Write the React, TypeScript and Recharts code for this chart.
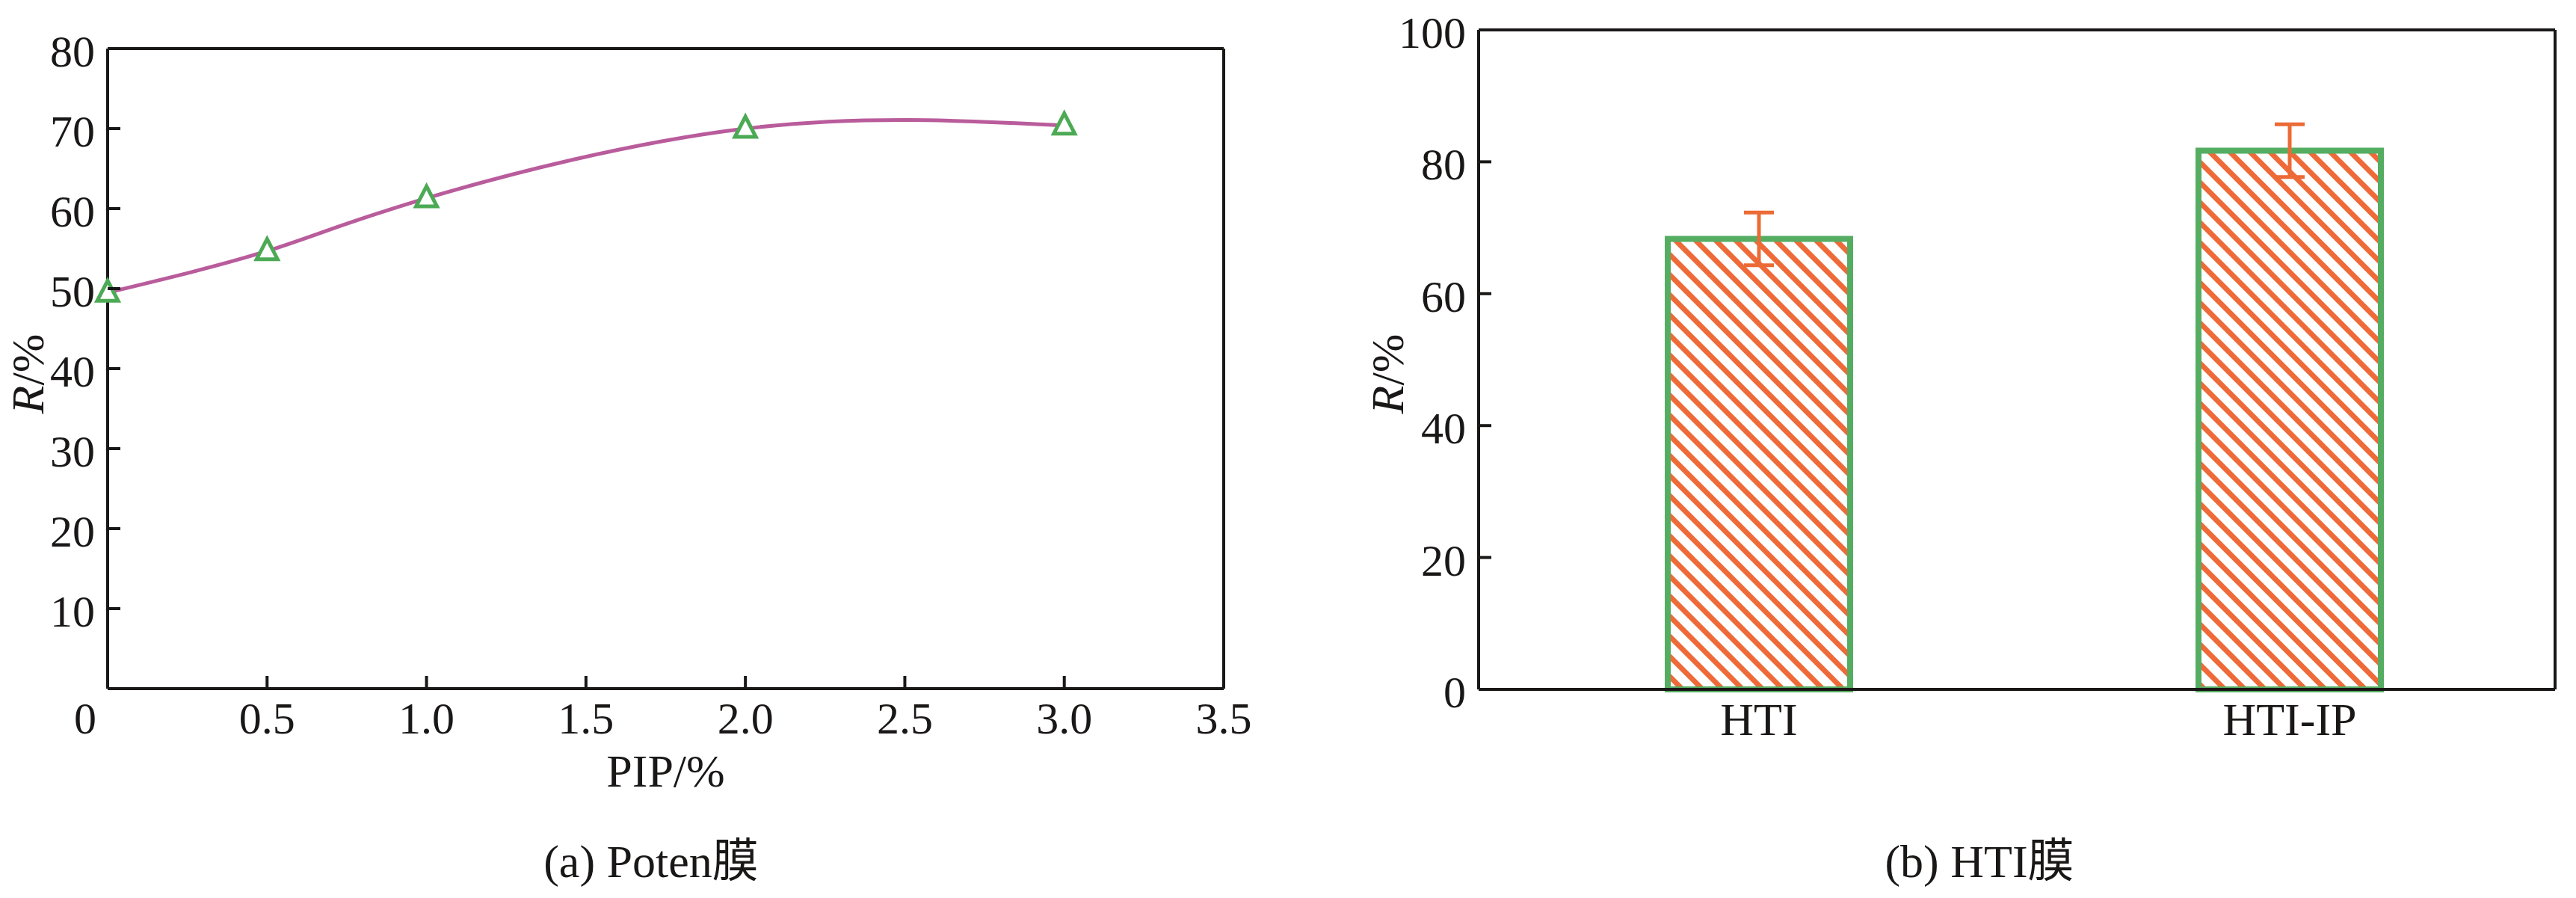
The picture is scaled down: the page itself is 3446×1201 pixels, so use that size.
import React from "react";
import {
  LineChart,
  Line,
  BarChart,
  Bar,
  ErrorBar,
  XAxis,
  YAxis,
  ReferenceLine,
} from "recharts";

// (a) Poten membrane: rejection vs PIP content
const pipLevels = [0, 0.5, 1.0, 2.0, 3.0];
const potenR = [49.5, 54.7, 61.3, 70.0, 70.4];
const pipTicks = [0, 0.5, 1.0, 1.5, 2.0, 2.5, 3.0, 3.5];
const leftYTicks = [10, 20, 30, 40, 50, 60, 70, 80];

// (b) HTI membranes
const membranes = ["HTI", "HTI-IP"];
const membraneR = [68.3, 81.7];
const membraneErr = [4.0, 4.0];
const rightYTicks = [0, 20, 40, 60, 80, 100];

const FONT = "'Liberation Serif', 'Times New Roman', 'Noto Sans CJK SC', serif";
const INK = "#1a1717";
const TICK = 17;
const FS = 60;

const potenData = pipLevels.map((p, i) => ({ pip: p, r: potenR[i] }));
const membraneData = membranes.map((m, i) => ({
  name: m,
  r: membraneR[i],
  err: membraneErr[i],
}));

const LeftTickY = (props: any) => {
  const { x, y, payload } = props;
  return (
    <g>
      <line x1={x} y1={y} x2={x + TICK} y2={y} stroke={INK} strokeWidth={4} />
      <text x={x - TICK} y={y} dy="0.4em" textAnchor="end" fontFamily={FONT} fontSize={FS} fill={INK}>
        {payload.value}
      </text>
    </g>
  );
};

const PipTick = (props: any) => {
  const { x, y, payload } = props;
  const v = payload.value as number;
  return (
    <g>
      <line x1={x} y1={y} x2={x} y2={y - TICK} stroke={INK} strokeWidth={4} />
      <text x={v === 0 ? x - 30 : x} y={y + 60} textAnchor="middle" fontFamily={FONT} fontSize={FS} fill={INK}>
        {v === 0 ? "0" : v.toFixed(1)}
      </text>
    </g>
  );
};

const CatTick = (props: any) => {
  const { x, y, payload } = props;
  return (
    <text x={x} y={y + 61} textAnchor="middle" fontFamily={FONT} fontSize={62} fill={INK}>
      {payload.value}
    </text>
  );
};

const RLabel = (props: any) => {
  const { viewBox, dx, dy } = props;
  const cx = viewBox.x + dx;
  const cy = viewBox.y + viewBox.height / 2 + dy;
  return (
    <text
      x={cx}
      y={cy}
      transform={`rotate(-90 ${cx} ${cy})`}
      textAnchor="middle"
      dominantBaseline="central"
      fontFamily={FONT}
      fontSize={62}
      fill={INK}
    >
      <tspan fontStyle="italic">R</tspan>/%
    </text>
  );
};

const PipLabel = (props: any) => {
  const { viewBox } = props;
  return (
    <text
      x={viewBox.x + viewBox.width / 2}
      y={viewBox.y + 131}
      textAnchor="middle"
      fontFamily={FONT}
      fontSize={62}
      fill={INK}
    >
      PIP/%
    </text>
  );
};

const TriangleDot = (props: any) => {
  const { cx, cy } = props;
  if (cx == null || cy == null) return <g />;
  return (
    <path
      d={`M${cx} ${cy - 16} L${cx + 14} ${cy + 11} L${cx - 14} ${cy + 11} Z`}
      fill="#ffffff"
      stroke="#4caa55"
      strokeWidth={5}
      strokeLinejoin="miter"
    />
  );
};

const caption: React.CSSProperties = {
  position: "absolute",
  width: 600,
  textAlign: "center",
  fontFamily: FONT,
  fontSize: 62,
  lineHeight: "62px",
  color: INK,
  whiteSpace: "nowrap",
};

const axisStyle = { stroke: INK, strokeWidth: 4 };

const App: React.FC = () => {
  return (
    <div style={{ position: "absolute", left: 0, top: 0, width: 3446, height: 1201, background: "#fff" }}>
      <div style={{ position: "absolute", left: 0, top: 0 }}>
        <LineChart
          width={1700}
          height={1201}
          data={potenData}
          margin={{ top: 65, right: 63, left: 44, bottom: 180 }}
        >
          <XAxis
            dataKey="pip"
            type="number"
            domain={[0, 3.5]}
            ticks={pipTicks}
            height={100}
            axisLine={axisStyle}
            tickLine={false}
            tickSize={0}
            tickMargin={0}
            tick={<PipTick />}
            label={{ content: (p: any) => <PipLabel {...p} /> }}
          />
          <YAxis
            type="number"
            domain={[0, 80]}
            ticks={leftYTicks}
            width={100}
            axisLine={axisStyle}
            tickLine={false}
            tickSize={0}
            tickMargin={0}
            tick={<LeftTickY />}
            label={{ content: (p: any) => <RLabel {...p} dx={-7} dy={7} /> }}
          />
          <ReferenceLine y={80} stroke={INK} strokeWidth={4} />
          <ReferenceLine x={3.5} stroke={INK} strokeWidth={4} />
          <Line
            type="natural"
            dataKey="r"
            stroke="#b95c9c"
            strokeWidth={5}
            dot={<TriangleDot />}
            activeDot={false}
            isAnimationActive={false}
          />
        </LineChart>
      </div>

      <div style={{ position: "absolute", left: 1700, top: 0 }}>
        <BarChart
          width={1746}
          height={1201}
          data={membraneData}
          margin={{ top: 40, right: 28, left: 178, bottom: 179 }}
        >
          <defs>
            <pattern
              id="hatch"
              patternUnits="userSpaceOnUse"
              width={19}
              height={19}
              patternTransform="rotate(-45)"
            >
              <rect x={0} y={0} width={19} height={19} fill="#ffffff" />
              <rect x={0} y={0} width={7} height={19} fill="#ee6a38" />
            </pattern>
          </defs>
          <XAxis
            dataKey="name"
            height={100}
            padding={{ left: 20, right: 0 }}
            axisLine={axisStyle}
            tickLine={false}
            tickSize={0}
            tickMargin={0}
            tick={<CatTick />}
          />
          <XAxis xAxisId="frame" type="number" domain={[0, 1]} hide />
          <YAxis
            type="number"
            domain={[0, 100]}
            ticks={rightYTicks}
            width={100}
            axisLine={axisStyle}
            tickLine={false}
            tickSize={0}
            tickMargin={0}
            tick={<LeftTickY />}
            label={{ content: (p: any) => <RLabel {...p} dx={-22} dy={19} /> }}
          />
          <ReferenceLine y={100} stroke={INK} strokeWidth={4} />
          <ReferenceLine xAxisId="frame" x={1} stroke={INK} strokeWidth={4} />
          <Bar
            dataKey="r"
            barSize={244}
            fill="url(#hatch)"
            stroke="#55ad62"
            strokeWidth={8}
            isAnimationActive={false}
          >
            <ErrorBar
              dataKey="err"
              width={20}
              stroke="#ec6a35"
              strokeWidth={5}
              isAnimationActive={false}
            />
          </Bar>
        </BarChart>
      </div>

      <div style={{ ...caption, left: 571, top: 1121 }}>(a) Poten膜</div>
      <div style={{ ...caption, left: 2348, top: 1121 }}>(b) HTI膜</div>
    </div>
  );
};

export default App;
